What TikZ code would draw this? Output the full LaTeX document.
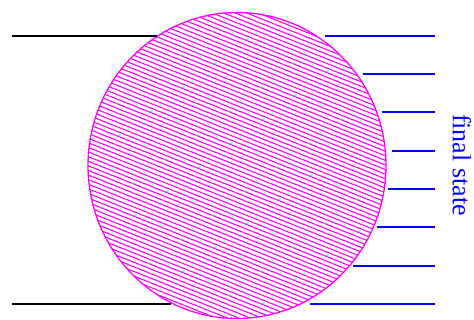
\documentclass[tikz,border=0pt]{standalone}
\usepackage{fontspec}
\setmainfont{Liberation Serif}
\definecolor{mag}{RGB}{255,0,255}
\definecolor{blu}{RGB}{0,0,255}
\begin{document}
\begin{tikzpicture}[x=1pt,y=-1pt,
  blob/.style={draw=mag,line width=1.3pt},
  hatch/.style={mag,line width=1.1pt},
  inleg/.style={black,line width=1.4pt},
  outleg/.style={blu,line width=1.4pt}]
\useasboundingbox (0,0) rectangle (474,320);
\coordinate (c) at (237,165.5);
\begin{scope}
  \clip (c) ellipse [x radius=149, y radius=153];
  \foreach \k in {-52,...,52}{
    \draw[hatch] (70,{165.5+4.6*\k-0.4*167}) -- (404,{165.5+4.6*\k+0.4*167});
  }
\end{scope}
\draw[blob] (c) ellipse [x radius=149, y radius=153];
% incoming lines
\draw[inleg] (12,36) -- (157,36);
\draw[inleg] (12,304) -- (171,304);
% outgoing lines
\foreach \y/\x in {36/325, 74/363, 112/382, 151/392, 189/388, 227/377, 266/353, 304/310}{
  \draw[outleg] (\x,\y) -- (435,\y);
}
\node[blu,rotate=-90,font=\fontsize{26}{30}\selectfont,inner sep=0pt] (fs) at (462,165) {final state};
\end{tikzpicture}
\end{document}
